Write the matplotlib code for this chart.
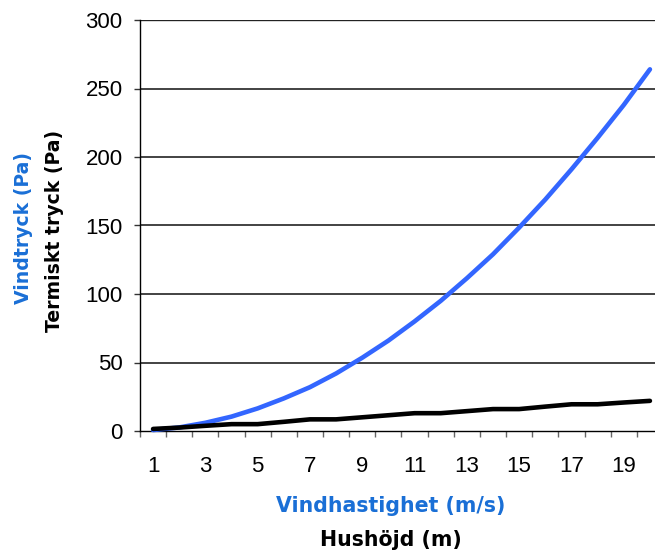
import matplotlib
matplotlib.use("Agg")
import matplotlib.pyplot as plt
import numpy as np

# Data
x_values = list(range(1, 21))
vindtryck = [0.7, 2.6, 6.0, 10.5, 16.5, 23.8, 32.0, 42.0, 53.5, 66.0,
             80.0, 95.0, 111.5, 129.0, 148.5, 169.0, 191.0, 214.0, 238.0, 264.0]
termiskt = [1.5, 2.5, 3.8, 5.0, 5.0, 6.7, 8.5, 8.5, 10.0, 11.5,
            13.0, 13.0, 14.5, 16.0, 16.0, 17.8, 19.5, 19.5, 20.8, 22.0]
x_tick_labels = [1, 3, 5, 7, 9, 11, 13, 15, 17, 19]
y_ticks = [0, 50, 100, 150, 200, 250, 300]

BLUE_LINE = "#3366FF"
BLUE_TEXT = "#1a6fd6"

fig = plt.figure(figsize=(6.55, 5.5), dpi=100)
ax = fig.add_axes([140/655, 119/550, (663-140)/655, 411/550])

ax.plot(x_values, vindtryck, color=BLUE_LINE, lw=3.3, solid_capstyle="round",
        solid_joinstyle="round", zorder=3, clip_on=False)
ax.plot(x_values, termiskt, color="black", lw=3.3, solid_capstyle="round",
        solid_joinstyle="round", zorder=4, clip_on=False)

ax.set_xlim(0.5, 20.5)
ax.set_ylim(0, 300)

# gridlines
for yv in y_ticks[1:]:
    ax.axhline(yv, color="#222222", lw=1.7 if yv == 300 else 1.2, zorder=1)

# ticks
tick_font = dict(family=["Liberation Sans", "DejaVu Sans"], size=16)
ax.set_yticks(y_ticks)
ax.set_yticklabels([str(v) for v in y_ticks], fontdict=tick_font)
ax.tick_params(axis="y", direction="out", length=4.5, width=1.0,
               color="#333333", pad=8)

ax.set_xticks([v + 0.5 for v in range(0, 20)])
ax.set_xticklabels([])
ax.tick_params(axis="x", which="major", direction="out", length=4, width=1.0,
               color="#666666")
ax.set_xticks(x_tick_labels, minor=True)
ax.set_xticklabels([str(v) for v in x_tick_labels], minor=True, fontdict=tick_font)
ax.tick_params(axis="x", which="minor", length=0, pad=18)

for s in ["top", "right"]:
    ax.spines[s].set_visible(False)
ax.spines["left"].set_color("black")
ax.spines["bottom"].set_color("black")
ax.spines["left"].set_linewidth(1.0)
ax.spines["bottom"].set_linewidth(1.0)

label_font = dict(family="DejaVu Sans", weight="bold", size=14.8)
ylabel_font = dict(family="DejaVu Sans", weight="bold", size=13.6)
# y labels
fig.text(24/655, 1 - 228/550, "Vindtryck (Pa)", rotation=90, ha="center",
         va="center", color=BLUE_TEXT, **ylabel_font)
fig.text(55/655, 1 - 231/550, "Termiskt tryck (Pa)", rotation=90, ha="center",
         va="center", color="black", **ylabel_font)
# x labels
fig.text(391/655, 1 - 506/550, "Vindhastighet (m/s)", ha="center", va="center",
         color=BLUE_TEXT, **label_font)
fig.text(391/655, 1 - 540/550, "Hushöjd (m)", ha="center", va="center",
         color="black", **label_font)

fig.savefig("out.png", dpi=100)
